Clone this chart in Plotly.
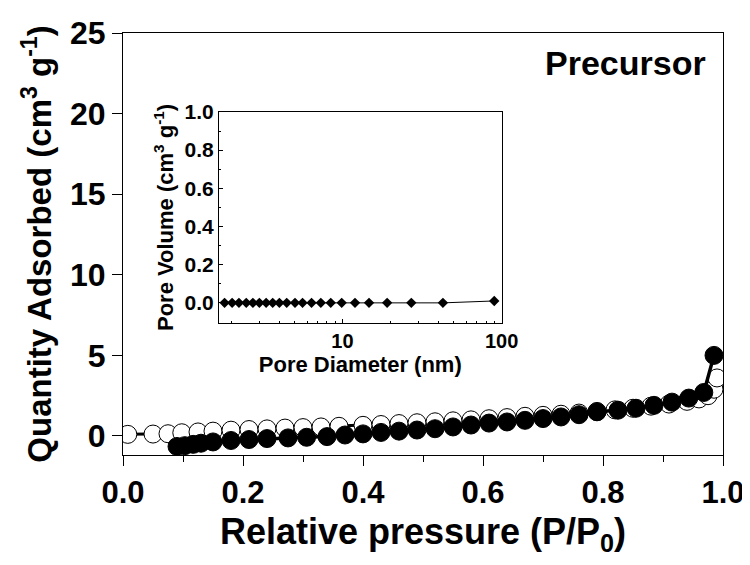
import plotly.graph_objects as go

# Main isotherm data
ads_p = [0.008, 0.05, 0.075, 0.098, 0.125, 0.15, 0.18, 0.21, 0.24, 0.27, 0.30, 0.33, 0.36, 0.40, 0.43,
         0.46, 0.49, 0.52, 0.55, 0.58, 0.61, 0.64, 0.67, 0.70, 0.73, 0.76, 0.79, 0.82, 0.85, 0.88,
         0.91, 0.94, 0.96, 0.975, 0.985, 0.99]
ads_v = [0.10, 0.12, 0.14, 0.20, 0.25, 0.30, 0.36, 0.40, 0.44, 0.49, 0.52, 0.56, 0.60, 0.66, 0.71,
         0.77, 0.82, 0.88, 0.94, 1.00, 1.07, 1.14, 1.22, 1.28, 1.35, 1.42, 1.52, 1.62, 1.72, 1.85,
         1.98, 2.15, 2.30, 2.50, 2.90, 3.60]

des_p = [0.985, 0.968, 0.943, 0.915, 0.885, 0.855, 0.825, 0.79, 0.76, 0.73, 0.70, 0.67, 0.64, 0.61,
         0.58, 0.55, 0.52, 0.49, 0.46, 0.43, 0.40, 0.37, 0.34, 0.306, 0.275, 0.24, 0.21, 0.18, 0.15,
         0.13, 0.117, 0.103, 0.09]
des_v = [5.0, 2.7, 2.35, 2.1, 1.9, 1.72, 1.6, 1.5, 1.32, 1.18, 1.08, 0.97, 0.87, 0.8,
         0.68, 0.56, 0.45, 0.37, 0.3, 0.22, 0.13, 0.06, -0.04, -0.08, -0.12, -0.16, -0.22, -0.28, -0.37,
         -0.45, -0.52, -0.6, -0.65]

# Inset pore size distribution
pore_d = [1.82, 2.03, 2.24, 2.49, 2.74, 3.01, 3.32, 3.65, 4.02, 4.47, 5.04, 5.62, 6.40, 7.32, 8.45,
          9.9, 12.0, 14.7, 19.1, 27.1, 42.8, 89.9]
pore_v = [0.0, 0.0, 0.0, 0.0, 0.0, 0.0, 0.0, 0.0, 0.0, 0.0, 0.0, 0.0, 0.0, 0.0, 0.0,
          0.0, 0.0, 0.0, 0.0, 0.0, 0.0, 0.01]

x_ticks = [0.0, 0.2, 0.4, 0.6, 0.8, 1.0]
y_ticks = [0, 5, 10, 15, 20, 25]
inset_y_ticks = [0.0, 0.2, 0.4, 0.6, 0.8, 1.0]
inset_x_ticks = [10, 100]

FONT = "Liberation Sans, Arial, sans-serif"

fig = go.Figure()
fig.add_trace(go.Scatter(
    x=ads_p, y=ads_v, mode="lines+markers",
    line=dict(color="black", width=3),
    marker=dict(symbol="circle", size=18, color="white", line=dict(color="black", width=1)),
    showlegend=False, xaxis="x", yaxis="y"))
fig.add_trace(go.Scatter(
    x=des_p, y=des_v, mode="lines+markers",
    line=dict(color="black", width=3.5),
    marker=dict(symbol="circle", size=18, color="black", line=dict(color="black", width=1)),
    showlegend=False, xaxis="x", yaxis="y"))
fig.add_trace(go.Scatter(
    x=pore_d, y=pore_v, mode="lines+markers",
    line=dict(color="black", width=1),
    marker=dict(symbol="diamond", size=8, color="black"),
    showlegend=False, xaxis="x2", yaxis="y2"))

# The page body adds an 8px margin all round; size and margins compensate for it.
fig.update_layout(
    width=742, height=549,
    margin=dict(l=115, r=27, t=25, b=102),
    paper_bgcolor="white", plot_bgcolor="white",
    font=dict(family=FONT, color="black"),
    xaxis=dict(
        range=[0, 1], domain=[0, 1], tickvals=x_ticks, tickformat=".1f",
        showline=True, linecolor="black", linewidth=1, mirror=True,
        ticks="outside", ticklen=10, tickcolor="black", ticklabeloverflow="allow",
        minor=dict(dtick=0.1, ticks="outside", ticklen=6, tickcolor="black"),
        showgrid=False, zeroline=False, automargin=False,
        tickfont=dict(size=31, weight="bold"),
        title=dict(text="Relative pressure (P/P<sub>0</sub>)", font=dict(size=36, weight="bold"), standoff=12),
    ),
    yaxis=dict(
        range=[-1.18, 25], domain=[0, 1], tickvals=y_ticks,
        showline=True, linecolor="black", linewidth=1, mirror=True,
        ticks="outside", ticklen=10, tickcolor="black",
        showgrid=False, zeroline=False, automargin=False,
        tickfont=dict(size=32, weight="bold"),
        title=dict(text="Quantity Adsorbed (cm<sup>3</sup> g<sup>-1</sup>)", font=dict(size=33, weight="bold"), standoff=8),
    ),
    xaxis2=dict(
        type="log", range=[0.225, 2], domain=[0.16, 0.631], anchor="y2",
        tickvals=inset_x_ticks, ticktext=["10", "100"],
        showline=True, linecolor="black", linewidth=1, mirror=True,
        ticks="inside", ticklen=4, tickcolor="black",
        minor=dict(tickvals=[2, 3, 4, 5, 6, 7, 8, 9, 20, 30, 40, 50, 60, 70, 80, 90],
                   ticks="inside", ticklen=2, tickcolor="black"),
        showgrid=False, zeroline=False, automargin=False,
        tickfont=dict(size=20, weight="bold"),
        title=dict(text="Pore Diameter (nm)", font=dict(size=22, weight="bold"), standoff=2),
    ),
    yaxis2=dict(
        range=[-0.105, 1.0], domain=[0.313, 0.813], anchor="x2",
        tickvals=inset_y_ticks, tickformat=".1f",
        showline=True, linecolor="black", linewidth=1, mirror=True,
        ticks="inside", ticklen=4, tickcolor="black",
        minor=dict(dtick=0.1, ticks="inside", ticklen=2, tickcolor="black"),
        showgrid=False, zeroline=False, automargin=False,
        tickfont=dict(size=21, weight="bold"),
        title=dict(text="Pore Volume (cm<sup>3</sup> g<sup>-1</sup>)", font=dict(size=22, weight="bold"), standoff=4),
    ),
    annotations=[dict(
        text="Precursor", x=0.975, y=0.93, xref="paper", yref="paper",
        xanchor="right", yanchor="middle", showarrow=False,
        font=dict(size=34, weight="bold", family=FONT))],
)

fig.write_html("out.html")
